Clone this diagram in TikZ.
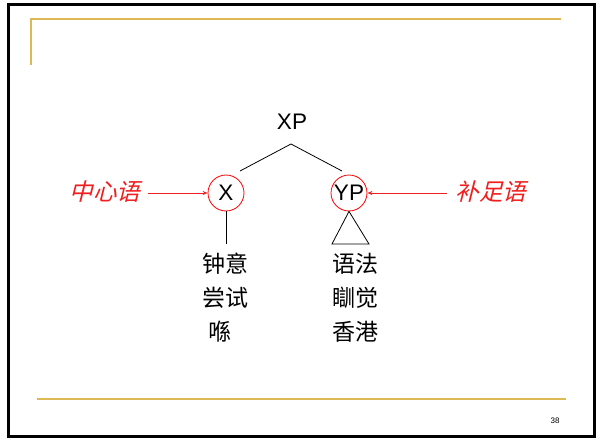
\documentclass[tikz,border=0pt]{standalone}
\usepackage{fontspec}
\setmainfont{Liberation Sans}
\newfontfamily\cjk{Noto Sans CJK SC}
\newfontfamily\cjkit[FakeSlant=0.25]{Noto Sans CJK SC}
\usetikzlibrary{arrows.meta}
\definecolor{gold}{RGB}{220,185,85}
\definecolor{lred}{RGB}{240,30,30}
\begin{document}
\begin{tikzpicture}[x=1pt,y=-1pt,
  goldline/.style={draw=gold,line width=2pt},
  cat/.style={font=\fontsize{22.5}{22.5}\selectfont,inner sep=0pt},
  ring/.style={circle,draw=red,line width=0.8pt,minimum size=36pt,inner sep=0pt,font=\fontsize{22.5}{22.5}\selectfont},
  word/.style={font=\cjk\fontsize{23}{23}\selectfont,inner sep=0pt,anchor=west},
  lab/.style={font=\cjkit\fontsize{23.5}{23.5}\selectfont,text=lred,inner sep=0pt},
  redarrow/.style={draw=lred,line width=0.7pt,-{Stealth[length=5pt,width=4pt]}},
  branch/.style={draw=black,line width=0.8pt}]
\useasboundingbox (0,0) rectangle (598,439);
\fill[white] (0,0) rectangle (598,439);
\draw[line width=3pt] (8,4) rectangle (594,436);
\draw[goldline] (31,65) -- (31,19) -- (561,19);
\draw[goldline] (37,399) -- (566,399);
\node[font=\fontsize{8}{8}\selectfont\rmfamily] (pg) at (555,421) {38};

\node[cat] (XP) at (292,122) {XP};
\node[ring] (X) at (226,193) {X};
\node[ring] (YP) at (349,193) {YP};
\coordinate (apex) at (291,144);
\coordinate (lend) at (240,171);
\coordinate (rend) at (342,171);
\draw[branch] (lend) -- (apex) -- (rend);

\coordinate (xbot) at (226,244);
\draw[branch] (X.south) -- (xbot);
\coordinate (tl) at (332,244);
\coordinate (tr) at (369,244);
\draw[branch] (YP.south) -- (tl) -- (tr) -- cycle;

\node[word] (w1) at (202,264) {钟意};
\node[word] (w2) at (202,298) {尝试};
\node[word] (w3) at (208,332) {喺};
\node[word] (w4) at (332,264) {语法};
\node[word] (w5) at (332,298) {瞓觉};
\node[word] (w6) at (332,332) {香港};

\node[lab] (head) at (105,192) {中心语};
\node[lab] (comp) at (491,192) {补足语};
\coordinate (ha) at (148,193);
\coordinate (ca) at (447,193);
\draw[redarrow] (ha) -- (X.west);
\draw[redarrow] (ca) -- (YP.east);
\end{tikzpicture}
\end{document}
